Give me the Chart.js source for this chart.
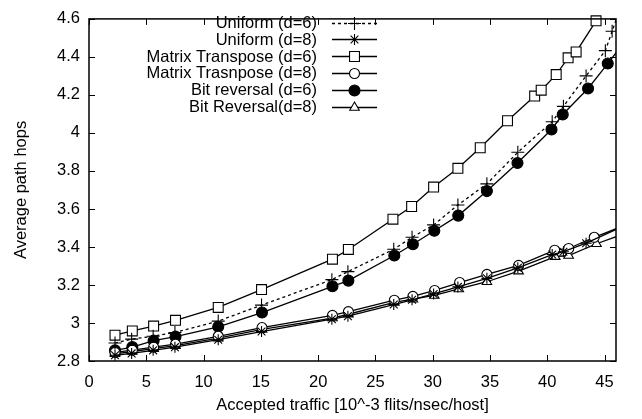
<!DOCTYPE html>
<html><head><meta charset="utf-8">
<script src="https://cdn.jsdelivr.net/npm/chart.js@4.4.0/dist/chart.umd.min.js"></script>
<style>html,body{margin:0;padding:0;background:#fff}#wrap{width:642px;height:419px}</style>
</head><body><div id="wrap"><canvas id="c" width="642" height="419"></canvas></div>
<script>
const xTicks = [0,5,10,15,20,25,30,35,40,45];
const yTicks = [2.8,3,3.2,3.4,3.6,3.8,4,4.2,4.4,4.6];
const yTickLabels = ['2.8','3','3.2','3.4','3.6','3.8','4','4.2','4.4','4.6'];
const seriesNames = ['Uniform (d=6)','Uniform (d=8)','Matrix Transpose (d=6)','Matrix Trasnpose (d=8)','Bit reversal (d=6)','Bit Reversal(d=8)'];

const uniform6X = [2.27,3.72,5.6,7.5,11.28,15.06,21.2,22.6,26.6,28.2,30.08,32.2,34.73,37.43,40.43,41.41,43.39,45.07,45.66,46.5];
const uniform6Y = [2.895,2.915,2.93,2.95,3.01,3.094,3.228,3.27,3.388,3.451,3.516,3.621,3.732,3.898,4.059,4.14,4.30,4.433,4.535,4.68];
const uniform8X = [2.27,3.72,5.6,7.5,11.28,15.06,21.2,22.6,26.6,28.2,30.08,32.2,34.73,37.43,40.43,41.41,43.39,47];
const uniform8Y = [2.83,2.84,2.856,2.873,2.912,2.955,3.02,3.036,3.097,3.122,3.153,3.19,3.235,3.29,3.36,3.375,3.42,3.52];
const transpose6X = [2.27,3.78,5.64,7.55,11.28,15.06,21.25,22.64,26.53,28.16,30.08,32.2,34.15,36.53,38.9,39.47,40.78,41.82,42.52,44.26];
const transpose6Y = [2.936,2.958,2.984,3.014,3.082,3.176,3.336,3.387,3.546,3.613,3.715,3.814,3.922,4.064,4.194,4.225,4.307,4.395,4.426,4.59];
const transpose8X = [2.27,3.78,5.64,7.55,11.28,15.1,21.25,22.64,26.65,28.27,30.17,32.35,34.73,37.5,40.65,41.87,44.1,47];
const transpose8Y = [2.845,2.857,2.873,2.889,2.93,2.976,3.04,3.06,3.12,3.14,3.171,3.213,3.256,3.303,3.383,3.392,3.451,3.52];
const bitrev6X = [2.27,3.78,5.64,7.55,11.28,15.1,21.25,22.64,26.65,28.27,30.14,32.23,34.73,37.4,40.37,41.35,43.56,45.28,47];
const bitrev6Y = [2.856,2.873,2.907,2.928,2.98,3.055,3.193,3.223,3.355,3.414,3.485,3.565,3.694,3.842,4.018,4.097,4.234,4.365,4.50];
const bitrev8X = [2.27,3.78,5.64,7.55,11.28,15.1,21.25,22.64,26.65,28.27,30.14,32.28,34.73,37.5,40.7,41.87,44.3,47];
const bitrev8Y = [2.838,2.85,2.865,2.881,2.92,2.966,3.026,3.046,3.108,3.125,3.145,3.179,3.217,3.273,3.349,3.355,3.417,3.475];

const FONT = 'Liberation Sans, Arial, Helvetica, sans-serif';
const FS = 16.5;
const zip = (xs, ys) => xs.map((x, i) => ({x, y: ys[i]}));

const styles = [
  {pointStyle:'cross', pointRadius:6.5, bg:'#000', dash:[3,3]},
  {pointStyle:'star', pointRadius:5.5, bg:'#000', dash:[]},
  {pointStyle:'rect', pointRadius:7, bg:'#fff', dash:[]},
  {pointStyle:'circle', pointRadius:5, bg:'#fff', dash:[]},
  {pointStyle:'circle', pointRadius:5.5, bg:'#000', dash:[]},
  {pointStyle:'triangle', pointRadius:5.5, bg:'#fff', dash:[]}
];
const dataArrays = [
  zip(uniform6X, uniform6Y), zip(uniform8X, uniform8Y),
  zip(transpose6X, transpose6Y), zip(transpose8X, transpose8Y),
  zip(bitrev6X, bitrev6Y), zip(bitrev8X, bitrev8Y)
];

const datasets = seriesNames.map((name, i) => ({
  label: name,
  data: dataArrays[i],
  borderColor: '#000',
  borderWidth: 1.3,
  borderDash: styles[i].dash,
  pointStyle: styles[i].pointStyle,
  pointRadius: styles[i].pointRadius,
  pointBorderWidth: 1.1,
  pointBorderColor: '#000',
  pointBackgroundColor: styles[i].bg,
  tension: 0,
  fill: false,
  clip: {left: 10, top: 10, right: 0, bottom: 10}
}));

const gnuFrame = {
  id: 'gnuFrame',
  afterDatasetsDraw(chart) {
    const {ctx, chartArea: a, scales} = chart;
    ctx.save();
    ctx.strokeStyle = '#000';
    ctx.lineWidth = 1.5;
    ctx.setLineDash([]);
    ctx.strokeRect(a.left, a.top, a.right - a.left, a.bottom - a.top);
    const TL = 6;
    ctx.lineWidth = 1;
    ctx.beginPath();
    xTicks.forEach(v => {
      const px = Math.round(scales.x.getPixelForValue(v)) + 0.5;
      ctx.moveTo(px, a.bottom); ctx.lineTo(px, a.bottom - TL);
      ctx.moveTo(px, a.top); ctx.lineTo(px, a.top + TL);
    });
    yTicks.forEach(v => {
      const py = Math.round(scales.y.getPixelForValue(v)) + 0.5;
      ctx.moveTo(a.left, py); ctx.lineTo(a.left + TL, py);
      ctx.moveTo(a.right, py); ctx.lineTo(a.right - TL, py);
    });
    ctx.stroke();
    // legend
    ctx.font = FS + 'px ' + FONT;
    ctx.fillStyle = '#000';
    ctx.textAlign = 'right';
    ctx.textBaseline = 'middle';
    const textRight = 317, lx1 = 332, lx2 = 377, mx = 354.5;
    chart.data.datasets.forEach((ds, i) => {
      const y = 22.5 + i * 16.8;
      ctx.fillStyle = '#000';
      ctx.fillText(ds.label, textRight, y + 1);
      ctx.save();
      ctx.strokeStyle = '#000';
      ctx.lineWidth = 1.3;
      ctx.setLineDash(ds.borderDash || []);
      ctx.beginPath();
      ctx.moveTo(lx1, Math.round(y) + 0.5); ctx.lineTo(lx2, Math.round(y) + 0.5);
      ctx.stroke();
      ctx.setLineDash([]);
      ctx.lineWidth = 1.1;
      ctx.fillStyle = ds.pointBackgroundColor;
      Chart.helpers.drawPoint(ctx, {pointStyle: ds.pointStyle, radius: ds.pointRadius, rotation: 0, borderWidth: 1.1}, mx, Math.round(y) + 0.5);
      ctx.restore();
    });
    ctx.restore();
  }
};

new Chart(document.getElementById('c'), {
  type: 'line',
  data: {datasets},
  options: {
    responsive: false,
    devicePixelRatio: 1,
    animation: false,
    layout: {padding: {left: 0, right: 26, top: 8, bottom: 0}},
    plugins: {legend: {display: false}, tooltip: {enabled: false}},
    scales: {
      x: {
        type: 'linear', min: 0, max: 46,
        grid: {display: false, drawTicks: false},
        border: {display: false},
        afterBuildTicks: s => { s.ticks = xTicks.map(v => ({value: v})); },
        afterFit: s => { s.height = 58; },
        ticks: {padding: 11.1, color: '#000', font: {family: FONT, size: FS}, maxRotation: 0, autoSkip: false,
                callback: v => String(v)},
        title: {display: true, text: 'Accepted traffic [10^-3 flits/nsec/host]', color: '#000',
                font: {family: FONT, size: FS}, padding: {top: 0, bottom: 4.1}}
      },
      y: {
        type: 'linear', min: 2.8, max: 4.6,
        grid: {display: false, drawTicks: false},
        border: {display: false},
        afterBuildTicks: s => { s.ticks = yTicks.map(v => ({value: v})); },
        afterFit: s => { s.width = 89; },
        ticks: {padding: 9, color: '#000', font: {family: FONT, size: FS}, autoSkip: false,
                callback: (v, i) => yTickLabels[i]},
        title: {display: true, text: 'Average path hops', color: '#000',
                font: {family: FONT, size: FS}, padding: {top: 11.1, bottom: 0}}
      }
    }
  },
  plugins: [gnuFrame]
});
</script></body></html>
